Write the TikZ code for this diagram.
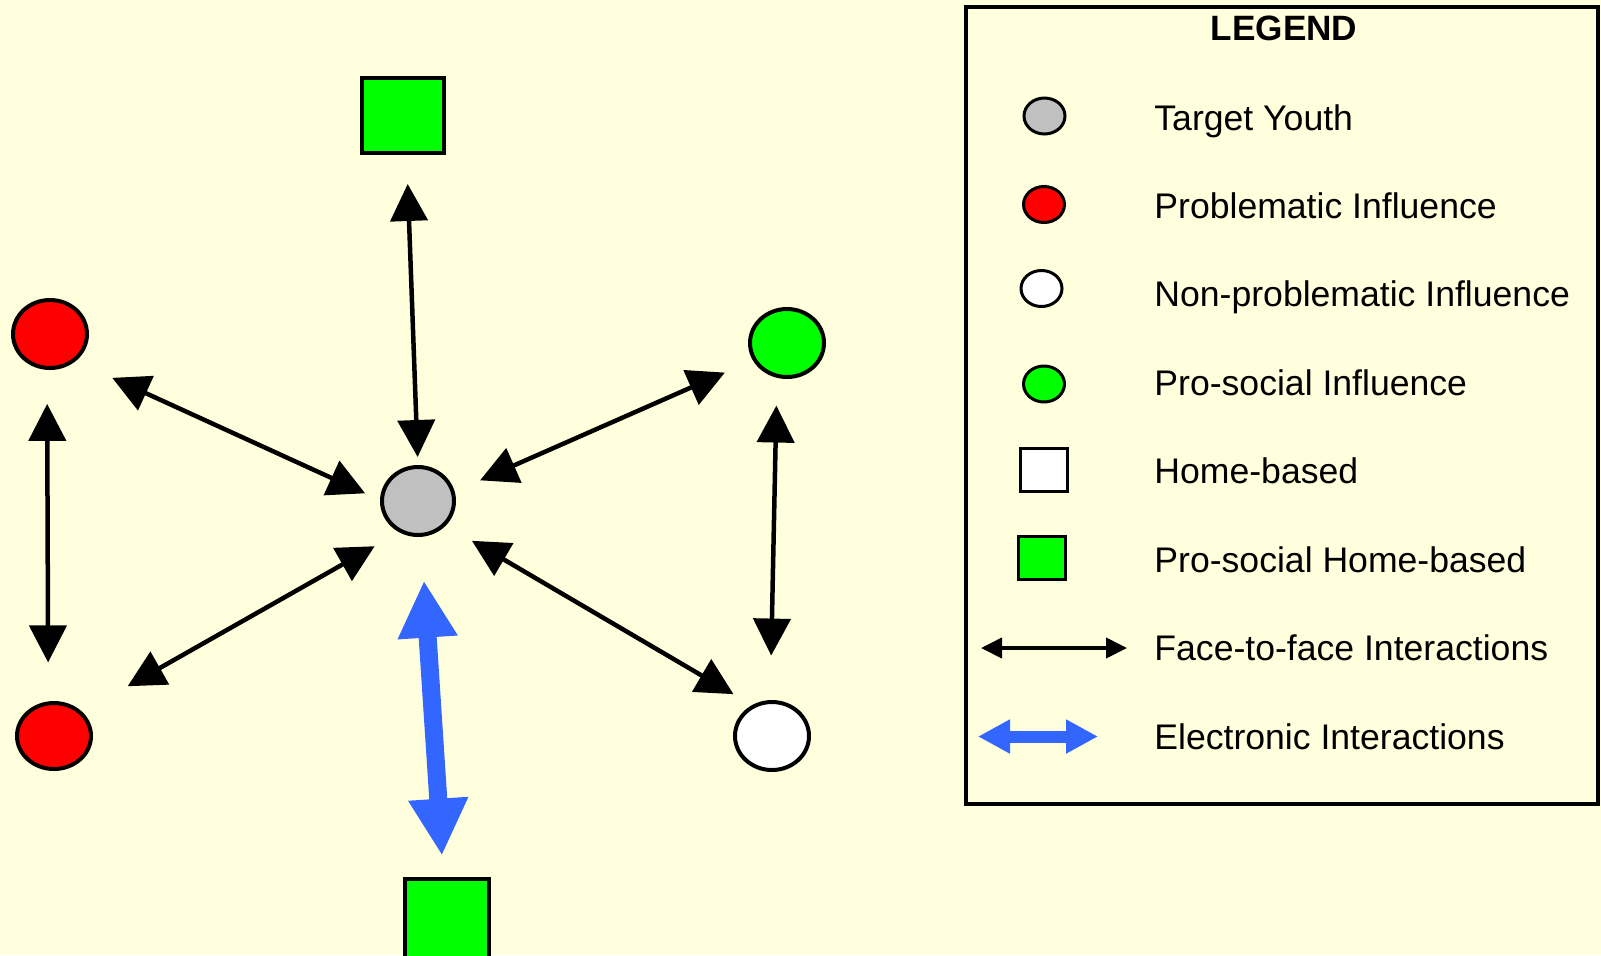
\documentclass[tikz,border=0pt]{standalone}
\usepackage{fontspec}
\setmainfont{Liberation Sans}
\usetikzlibrary{shapes.geometric,arrows.meta}
\definecolor{bgyellow}{HTML}{FFFFDD}
\definecolor{tgray}{HTML}{C0C0C0}
\definecolor{pred}{HTML}{FF0000}
\definecolor{pgreen}{HTML}{00FF00}
\definecolor{eblue}{HTML}{3366FF}
\tikzset{
  base/.style={draw=black, line width=2pt, inner sep=0pt, outer sep=0pt},
  circ/.style={base, ellipse, minimum width=37pt, minimum height=34pt},
  sqbox/.style={base, rectangle},
  lcirc/.style={draw=black, line width=1.5pt, inner sep=0pt, outer sep=0pt, ellipse, minimum width=20.5pt, minimum height=18pt},
  lsq/.style={draw=black, line width=1.5pt, inner sep=0pt, outer sep=0pt, rectangle, minimum width=23.5pt, minimum height=21.5pt},
  fta/.style={line width=2.25pt, {Triangle[length=18.5pt,width=18.5pt]}-{Triangle[length=18.5pt,width=18.5pt]}},
  ela/.style={line width=9pt, draw=eblue, {Triangle[length=28.5pt,width=28pt]}-{Triangle[length=28.5pt,width=28pt]}},
  lfta/.style={line width=2pt, {Triangle[length=10.5pt,width=10pt]}-{Triangle[length=10.5pt,width=10pt]}},
  lela/.style={line width=6pt, draw=eblue, {Triangle[length=16pt,width=16pt]}-{Triangle[length=16pt,width=16pt]}},
  ltext/.style={anchor=base west, inner sep=0pt},
}
\begin{document}
\begin{tikzpicture}[x=0.5pt, y=-0.5pt, font=\fontsize{17.8pt}{21pt}\selectfont]
\fill[bgyellow] (0,0) rectangle (1601,955);
\useasboundingbox (0,0) rectangle (1601,955);
\clip (0,0) rectangle (1601,955);

% main nodes
\node[circ, fill=tgray, minimum width=36pt] (ty) at (418,501) {};
\node[circ, fill=pred] (r1) at (50,334) {};
\node[circ, fill=pred, minimum height=33pt] (r2) at (54,736) {};
\node[circ, fill=pgreen] (g1) at (787,343) {};
\node[circ, fill=white] (w1) at (772,736) {};
\node[sqbox, fill=pgreen, minimum width=41pt, minimum height=37.5pt] (sqT) at (403.3,115.9) {};
\node[sqbox, fill=pgreen, minimum width=42pt, minimum height=40pt] (sqB) at (447,919) {};

% connectors
\draw[fta, shorten <=15.3pt, shorten >=5pt] (sqT.-85) -- (ty.north);
\draw[fta, shorten <=21.25pt, shorten >=9.25pt] (r1.-48.6) -- (ty.180);
\draw[fta, shorten <=27.1pt, shorten >=15.3pt] (r2.41.2) -- (ty.241);
\draw[fta, shorten <=16.25pt, shorten >=14.9pt] (g1.207.4) -- (ty.14.6);
\draw[fta, shorten <=16.15pt, shorten >=11.95pt] (ty.-42.8) -- (w1.121.6);
\draw[fta, shorten <=18pt, shorten >=20.5pt] (r1.-95) -- (r2.100);
\draw[fta, shorten <=14.9pt, shorten >=23.25pt] (g1.-107) -- (w1.93);
\draw[ela, shorten <=22.9pt, shorten >=11.7pt] (ty.-85) -- (sqB.95);

% legend
\node[draw=black, line width=2pt, inner sep=0pt, minimum width=316pt, minimum height=398.5pt] (leg) at (1282,405.5) {};
\node[anchor=base, inner sep=0pt, font=\fontsize{17.6pt}{21pt}\selectfont\bfseries] (legt) at (1284,40.8) {LEGEND};

\node[lcirc, fill=tgray] (li1) at (1044.5,116) {};
\node[lcirc, fill=pred] (li2) at (1044,204.5) {};
\node[lcirc, fill=white] (li3) at (1041.5,288.5) {};
\node[lcirc, fill=pgreen] (li4) at (1044,384) {};
\node[lsq, fill=white] (li5) at (1044.3,469.7) {};
\node[lsq, fill=pgreen] (li6) at (1041.7,558.2) {};
\coordinate (fa1) at (981,648);
\coordinate (fa2) at (1127,648);
\draw[lfta] (fa1) -- (fa2);
\coordinate (ea1) at (978,736.5);
\coordinate (ea2) at (1098,736.5);
\draw[lela] (ea1) -- (ea2);

\node[ltext] (lt1) at (1154,130) {Target Youth};
\node[ltext] (lt2) at (1154,218) {Problematic Influence};
\node[ltext] (lt3) at (1154,306.5) {Non-problematic Influence};
\node[ltext] (lt4) at (1154,395) {Pro-social Influence};
\node[ltext] (lt5) at (1154,483.5) {Home-based};
\node[ltext] (lt6) at (1154,572) {Pro-social Home-based};
\node[ltext] (lt7) at (1154,660.5) {Face-to-face Interactions};
\node[ltext] (lt8) at (1154,749) {Electronic Interactions};
\end{tikzpicture}
\end{document}
